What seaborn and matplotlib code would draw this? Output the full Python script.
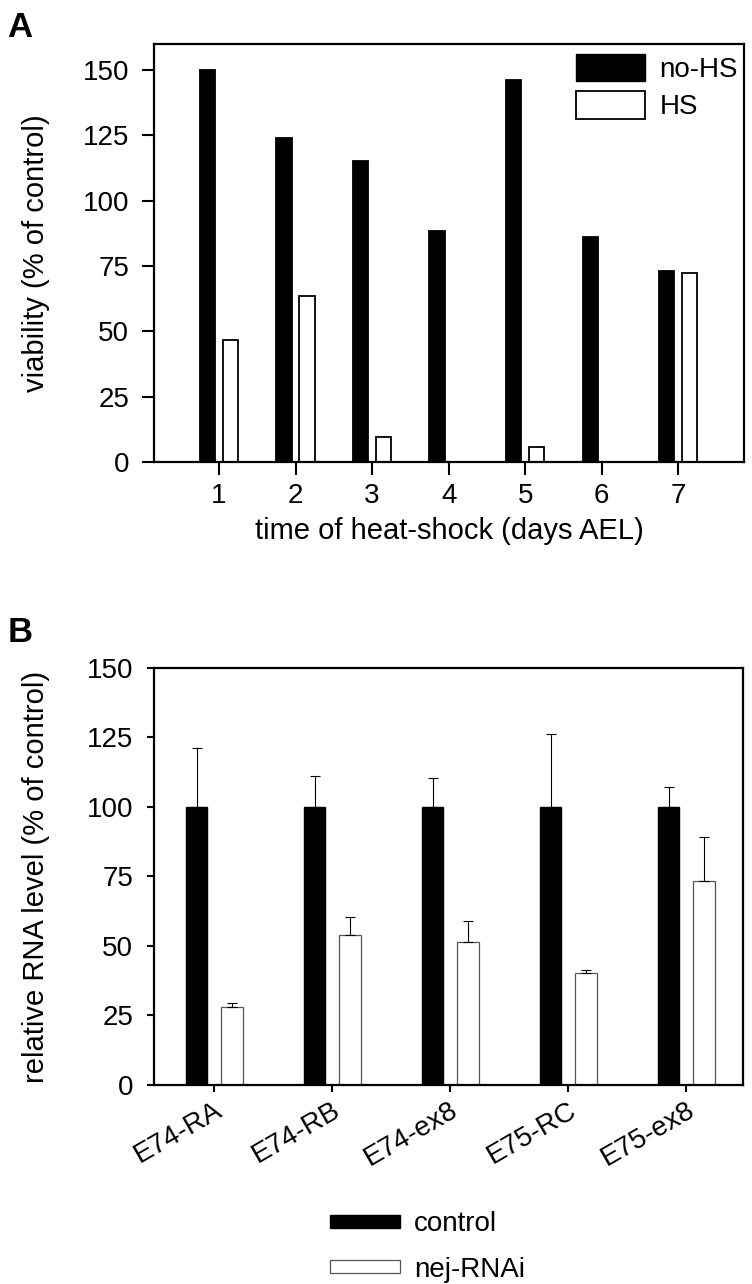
import numpy as np
import pandas as pd
import matplotlib
matplotlib.use("Agg")
import matplotlib.pyplot as plt
import matplotlib.transforms as mtransforms
from matplotlib.patches import Patch
import seaborn as sns

# panel A: viability after heat-shock
days = [1, 2, 3, 4, 5, 6, 7]
no_hs = [150, 124, 115.3, 88.5, 146.3, 86, 73.2]
hs = [46.7, 63.5, 9.7, 0, 5.6, 0, 72.4]

# panel B: relative RNA levels
genes = ["E74-RA", "E74-RB", "E74-ex8", "E75-RC", "E75-ex8"]
control = [100, 100, 100, 100, 100]
control_err = [21.1, 11.2, 10.4, 26.4, 7.3]
nej = [28.0, 53.8, 51.3, 40.3, 73.2]
nej_err = [1.5, 6.5, 7.6, 1.2, 16.1]

sns.set_style("ticks")
plt.rcParams["font.family"] = ["Liberation Sans", "DejaVu Sans"]
plt.rcParams.update({
    "font.size": 20,
    "text.color": "black",
    "axes.labelcolor": "black",
    "xtick.color": "black",
    "ytick.color": "black",
    "axes.edgecolor": "black",
})

df_a = pd.DataFrame({
    "day": days * 2,
    "viability": no_hs + hs,
    "group": ["no-HS"] * len(days) + ["HS"] * len(days),
})
df_b = pd.DataFrame({
    "gene": genes * 2,
    "level": control + nej,
    "group": ["control"] * len(genes) + ["nej-RNAi"] * len(genes),
})

fig = plt.figure(figsize=(7.52, 12.84), dpi=100)
ax1 = fig.add_axes([0.2048, 0.6402, 0.7846, 0.3255])
ax2 = fig.add_axes([0.2048, 0.155, 0.7832, 0.3248])

# ---- panel A
sns.barplot(data=df_a, x="day", y="viability", hue="group",
            palette={"no-HS": "black", "HS": "white"},
            width=0.6, gap=0.33, edgecolor="black", linewidth=1.3,
            errorbar=None, legend=False, ax=ax1)
ax1.set_xlim(-0.85, 6.86)
ax1.set_ylim(0, 160)
ax1.set_yticks([0, 25, 50, 75, 100, 125, 150])
ax1.set_xlabel("time of heat-shock (days AEL)", fontsize=21, labelpad=6)
ax1.set_ylabel("viability (% of control)", fontsize=21)
ax1.yaxis.set_label_coords(-0.176, 0.5)
ax1.tick_params(axis="both", direction="out", length=9, width=1.5,
                labelsize=20)
ax1.tick_params(axis="y", pad=9)
ax1.tick_params(axis="x", pad=6)
for s in ax1.spines.values():
    s.set_linewidth(1.6)
ax1.legend(handles=[Patch(facecolor="black", edgecolor="black", label="no-HS"),
                    Patch(facecolor="white", edgecolor="black", linewidth=1.3, label="HS")],
           loc="upper right", bbox_to_anchor=(1.02, 1.02), frameon=False,
           fontsize=20, handlelength=2.5, handleheight=1.15,
           handletextpad=0.5, labelspacing=0.3, borderaxespad=0.25)

# ---- panel B
sns.barplot(data=df_b, x="gene", y="level", hue="group",
            palette={"control": "black", "nej-RNAi": "white"},
            width=0.6, gap=0.4, errorbar=None, legend=False, ax=ax2)
for bar in ax2.containers[0]:
    bar.set_edgecolor("black")
    bar.set_linewidth(1.0)
for bar in ax2.containers[1]:
    bar.set_edgecolor("#555555")
    bar.set_linewidth(0.9)
for cont, errs in zip(ax2.containers, [control_err, nej_err]):
    for bar, e in zip(cont, errs):
        xc = bar.get_x() + bar.get_width() / 2
        ax2.errorbar(xc, bar.get_height(), yerr=[[0], [e]], fmt="none",
                     ecolor="black", elinewidth=0.8, capsize=3.5,
                     capthick=0.8, zorder=1)
ax2.set_xlim(-0.51, 4.48)
ax2.set_ylim(0, 150)
ax2.set_yticks([0, 25, 50, 75, 100, 125, 150])
ax2.set_xlabel("")
ax2.set_ylabel("relative RNA level (% of control)", fontsize=21)
ax2.yaxis.set_label_coords(-0.176, 0.5)
ax2.tick_params(axis="both", direction="out", length=5, width=1.5,
                labelsize=20)
ax2.tick_params(axis="y", pad=10)
ax2.tick_params(axis="x", pad=12)
shift = mtransforms.ScaledTranslation(6 / 100, 0, fig.dpi_scale_trans)
for lab in ax2.get_xticklabels():
    lab.set_rotation(30)
    lab.set_ha("right")
    lab.set_va("center")
    lab.set_rotation_mode("anchor")
    lab.set_transform(lab.get_transform() + shift)
for s in ax2.spines.values():
    s.set_linewidth(1.6)
fig.legend(handles=[Patch(facecolor="black", edgecolor="black", label="control"),
                    Patch(facecolor="white", edgecolor="#555555", linewidth=0.9,
                          label="nej-RNAi")],
           loc="upper left", bbox_to_anchor=(0.405, 0.076), frameon=False,
           fontsize=20, handlelength=2.55, handleheight=0.35,
           handletextpad=0.5, labelspacing=0.7)

fig.text(0.01, 0.9914, "A", fontsize=25, fontweight="bold", va="top")
fig.text(0.01, 0.5205, "B", fontsize=25, fontweight="bold", va="top")

fig.savefig("out.png", dpi=100)
